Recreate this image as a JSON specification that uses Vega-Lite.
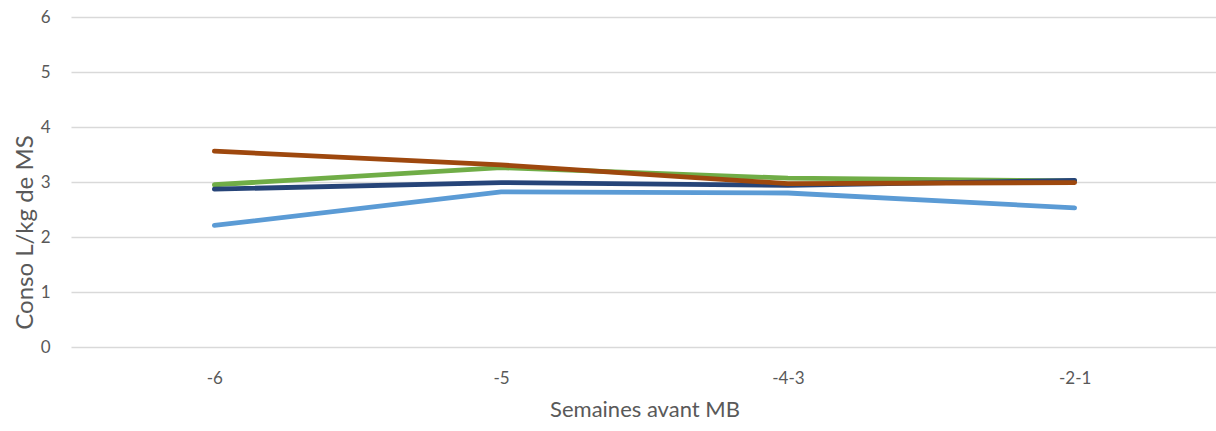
{
  "$schema": "https://vega.github.io/schema/vega-lite/v6.json",
  "width": 1147,
  "height": 330,
  "autosize": {"type": "none"},
  "padding": {"left": 71, "top": 17, "right": 0, "bottom": 84},
  "background": "white",
  "config": {
    "view": {"stroke": null},
    "font": "Lato",
    "axis": {"labelColor": "#595959", "titleColor": "#595959", "labelFontSize": 17, "titleFontWeight": "normal", "labelFont": "Lato", "titleFont": "Lato"}
  },
  "data": {
    "values": [
      {"semaine": "-6", "serie": "S1", "conso": 2.21},
      {"semaine": "-5", "serie": "S1", "conso": 2.82},
      {"semaine": "-4-3", "serie": "S1", "conso": 2.8},
      {"semaine": "-2-1", "serie": "S1", "conso": 2.53},
      {"semaine": "-6", "serie": "S2", "conso": 2.95},
      {"semaine": "-5", "serie": "S2", "conso": 3.26},
      {"semaine": "-4-3", "serie": "S2", "conso": 3.07},
      {"semaine": "-2-1", "serie": "S2", "conso": 3.02},
      {"semaine": "-6", "serie": "S3", "conso": 2.87},
      {"semaine": "-5", "serie": "S3", "conso": 2.99},
      {"semaine": "-4-3", "serie": "S3", "conso": 2.94},
      {"semaine": "-2-1", "serie": "S3", "conso": 3.03},
      {"semaine": "-6", "serie": "S4", "conso": 3.56},
      {"semaine": "-5", "serie": "S4", "conso": 3.31},
      {"semaine": "-4-3", "serie": "S4", "conso": 2.97},
      {"semaine": "-2-1", "serie": "S4", "conso": 2.99}
    ]
  },
  "mark": {"type": "line", "strokeWidth": 4.8, "strokeCap": "round", "strokeJoin": "round"},
  "encoding": {
    "x": {
      "field": "semaine", "type": "ordinal", "sort": ["-6", "-5", "-4-3", "-2-1"],
      "scale": {"type": "point", "padding": 0.5},
      "axis": {"title": "Semaines avant MB", "titleFontSize": 22, "labelAngle": 0, "ticks": false, "domain": false, "grid": false, "labelPadding": 23, "titlePadding": 13}
    },
    "y": {
      "field": "conso", "type": "quantitative",
      "scale": {"domain": [0, 6], "nice": false},
      "axis": {"title": "Conso L/kg de MS", "titleFontSize": 24, "values": [0, 1, 2, 3, 4, 5, 6], "ticks": false, "domain": false, "gridColor": "#d9d9d9", "gridWidth": 1.5, "labelPadding": 21, "titleX": -46, "titleY": 215, "titleBaseline": "middle", "titleAngle": -90, "titleAlign": "center"}
    },
    "color": {
      "field": "serie", "type": "nominal",
      "scale": {"domain": ["S1", "S2", "S3", "S4"], "range": ["#5B9BD5", "#70AD47", "#264478", "#9E480E"]},
      "legend": null
    },
    "order": {"field": "serie"}
  }
}
